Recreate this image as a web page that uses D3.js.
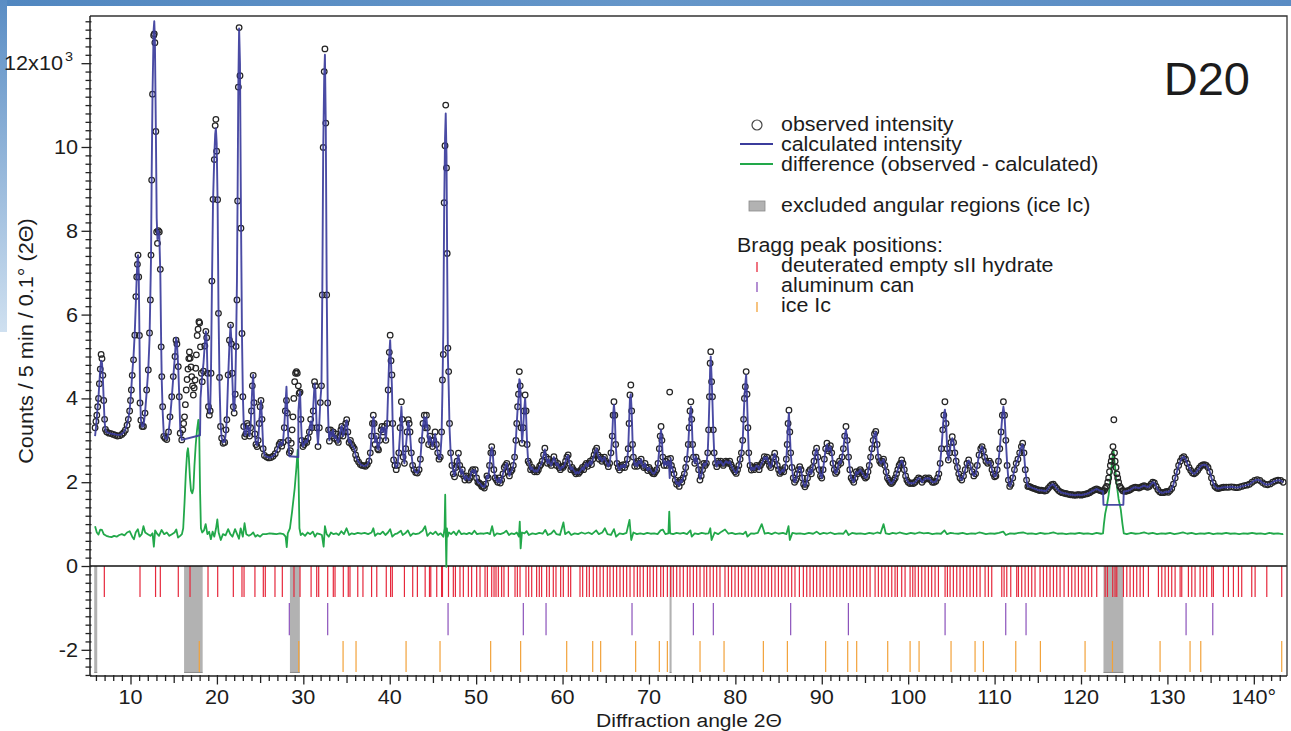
<!DOCTYPE html>
<html>
<head>
<meta charset="utf-8">
<script src="https://cdn.jsdelivr.net/npm/d3@7"></script>
<style>
  html, body { margin: 0; padding: 0; background: #fff; }
  svg { display: block; }
  text { font-family: "Liberation Sans", Arial, Helvetica, sans-serif; fill: #1c1c1c; }
</style>
</head>
<body>
<svg id="chart" width="1291" height="731"></svg>
<script>
// ---------------------------------------------------------------------------
// D20 neutron powder pattern: observed counts, calculated profile, difference
// Each profile row: [2θ (deg), observed counts, calculated counts]
// (null = no value drawn for that series at this angle)
// ---------------------------------------------------------------------------
const profile = [
  [5.9,3300,3100],[6.0,3450,3300],[6.1,3600,3550],[6.2,3800,3800],[6.3,4000,4050],[6.4,4350,4380],
  [6.5,4700,4700],[6.6,5050,4900],[6.7,4950,4850],[6.8,4550,4500],[6.9,3950,3950],[7.0,3500,3450],
  [7.1,3260,3250],[7.25,3200,3190],[7.5,3170,3170],[7.75,3160,3160],[8.0,3140,3150],[8.25,3120,3140],
  [8.5,3100,3130],[8.75,3110,3130],[9.0,3140,3150],[9.2,3180,3190],[9.4,3240,3260],[9.6,3360,3380],
  [9.75,3500,3520],[9.9,3700,3720],[10.0,3950,3950],[10.1,4200,4250],[10.2,4550,4600],[10.35,4920,5000],
  [10.5,5510,5600],[10.62,6430,6300],[10.72,6900,6900],[10.8,7200,7300],[10.87,7420,7420],[10.95,6900,7000],
  [11.03,5500,5600],[11.1,3890,4200],[11.2,3480,3500],[11.35,3330,3320],[11.5,3330,3330],
  [11.68,3650,3650],[11.87,4200,4150],[12.06,4680,4700],[12.2,5560,5400],[12.3,6350,6500],[12.37,7420,7300],
  [12.45,9210,9300],[12.55,11260,11300],[12.68,12660,12800],[12.75,12700,13000],[12.82,12490,12600],
  [12.93,10370,10500],[13.03,7970,8300],[13.12,7700,7800],[13.22,8000,8000],[13.33,7970,7900],
  [13.45,7080,7000],[13.55,5230,5300],[13.62,4520,4400],[13.72,3800,3700],[13.85,3090,3150],[14.0,3050,3050],
  [14.2,3020,3030],[14.4,3200,3180],[14.57,3560,3500],[14.77,4040,4000],[14.95,4520,4500],[15.15,5000,5050],
  [15.27,5390,5450],[15.37,5300,5350],[15.53,4760,4700],[15.65,4040,4000],[15.75,3170,3300],[15.93,3010,3010],
  [16.05,3250,null],[16.15,3400,null],[16.25,3560,null],[16.35,3850,null],[16.45,4200,null],[16.55,4450,null],
  [16.65,4700,null],[16.75,4950,null],[16.82,5110,null],[16.9,4960,null],[17.0,4750,null],[17.08,4520,null],
  [17.18,4300,null],[17.27,4080,null],[17.37,4250,null],[17.47,4440,null],[17.55,4720,null],[17.62,5040,null],
  [17.72,5500,null],[17.82,5650,null],[17.92,5830,null],[18.0,5800,null],[18.05,null,3120],
  [18.1,5230,4000],[18.2,4600,4300],[18.3,4400,4550],[18.45,4650,4850],[18.6,5250,5300],[18.72,5600,5600],
  [18.82,5450,5400],[18.92,4600,4500],[19.02,3800,3850],[19.12,3600,3650],[19.22,3700,3700],[19.32,4600,4700],
  [19.42,6800,6600],[19.55,8750,8700],[19.7,9700,9800],[19.8,10510,10300],[19.88,10660,10450],[19.97,9900,10100],
  [20.08,8740,8700],[20.18,6030,6200],[20.3,4500,4400],[20.42,3330,3400],[20.55,3050,3060],[20.72,2930,2950],
  [20.9,2950,2970],[21.05,3250,3200],[21.15,3490,3550],[21.3,4560,4500],[21.45,5390,5300],[21.58,5750,5750],
  [21.68,5300,5350],[21.78,4600,4500],[21.9,3800,3800],[22.0,3650,3700],[22.12,4100,4200],[22.22,5240,5300],
  [22.32,6350,6800],[22.4,8710,9000],[22.48,11430,11500],[22.57,12850,12830],[22.67,11700,12000],
  [22.78,8060,8500],[22.9,5550,5500],[23.0,4040,4100],[23.1,3330,3400],[23.22,3090,3120],
  [23.35,3150,3150],[23.5,3400,3350],[23.62,3350,3300],[23.78,3100,3100],[23.9,3300,3350],[24.0,3700,3800],
  [24.1,4300,4300],[24.2,4550,4560],[24.3,3900,3950],[24.4,3150,3100],[24.52,2900,2930],[24.65,2850,2880],
  [24.78,3000,3000],[24.9,3400,3400],[25.0,3800,3750],[25.1,3950,3950],[25.22,3500,3500],[25.35,2800,2850],
  [25.5,2640,2650],[25.75,2600,2610],[26.0,2580,2590],[26.25,2590,2590],[26.5,2620,2620],[26.75,2680,2680],
  [27.0,2780,2790],[27.2,2900,2920],[27.35,2950,2960],[27.5,2860,2880],[27.65,2950,2960],[27.8,3300,3350],
  [27.92,3700,3800],[28.05,3950,4280],[28.15,3650,3700],[28.27,3000,3000],[28.38,2700,2620],
  [28.5,2750,null],[28.6,2930,null],[28.7,3250,null],[28.8,3560,null],[28.9,4000,null],[29.0,4400,null],
  [29.1,4600,null],[29.2,4640,null],[29.3,4600,null],[29.42,4300,2600],[29.43,null,3700],[29.52,4120,3950],
  [29.62,4150,4160],[29.72,3500,3500],[29.82,3000,3050],[29.95,2850,2850],
  [30.1,2900,2900],[30.25,2980,3000],[30.4,2950,2950],[30.55,3050,3050],[30.7,3200,3250],[30.85,3500,3450],
  [31.0,3300,3250],[31.15,3700,3800],[31.3,4400,4350],[31.4,4300,4200],[31.55,3300,3300],[31.7,2850,2900],
  [31.85,3300,3400],[31.97,3900,3950],[32.1,4300,4300],[32.2,6470,6600],[32.3,9990,9900],[32.42,11800,11700],
  [32.5,12340,12200],[32.6,10570,10500],[32.7,6470,6800],[32.82,3890,4000],[32.92,3250,3250],[33.02,2980,3000],
  [33.15,3250,3200],[33.3,3100,3100],[33.45,3200,3250],[33.6,3050,3050],[33.75,3150,3100],[33.9,3000,3000],
  [34.05,2950,2950],[34.2,3100,3100],[34.35,3250,3300],[34.45,3330,3350],[34.6,3100,3100],[34.75,3200,3200],
  [34.9,3400,3380],[35.02,3490,3480],[35.15,3200,3150],[35.3,2950,2950],[35.45,3000,3000],[35.6,2900,2880],
  [35.75,2850,2850],[35.9,2800,2800],[36.05,2650,2650],[36.2,2550,2560],[36.4,2480,2490],[36.6,2420,2430],
  [36.8,2400,2400],[37.0,2390,2390],[37.2,2380,2390],[37.4,2420,2420],[37.6,2500,2500],[37.75,2700,2700],
  [37.9,3100,3100],[38.0,3400,3350],[38.1,3600,3560],[38.2,3400,3450],[38.3,2900,2950],[38.45,3100,3100],
  [38.6,2800,2800],[38.7,2770,2780],[38.85,3000,3000],[39.0,3250,3250],[39.1,3330,3300],[39.25,3200,3200],
  [39.4,3330,3320],[39.55,3000,3000],[39.7,3400,3400],[39.82,4200,4200],[39.95,5100,5050],[40.05,5510,5390],
  [40.15,4900,4850],[40.25,4560,4300],[40.35,3400,3300],[40.45,2530,2600],[40.6,2400,2420],[40.75,2300,2350],
  [40.9,2400,2400],[41.05,2700,2700],[41.2,3300,3200],[41.35,3920,3800],[41.45,3500,3400],[41.55,2600,2650],
  [41.7,2450,2450],[41.85,2800,2800],[42.0,3200,3150],[42.15,3490,3450],[42.25,3400,3350],[42.35,3200,3150],
  [42.5,2700,2700],[42.65,2400,2420],[42.8,2300,2300],[43.0,2230,2240],[43.2,2220,2220],[43.4,2300,2300],
  [43.55,2550,2550],[43.7,3000,3000],[43.85,3400,3350],[44.0,3600,3550],[44.12,3300,3300],[44.25,3600,3550],
  [44.35,3300,3300],[44.5,2900,2900],[44.65,3100,3100],[44.8,3000,3000],[44.95,2850,2850],[45.1,3000,3000],
  [45.25,3200,3150],[45.4,2900,2900],[45.55,2700,2700],[45.7,2550,2550],[45.85,2600,2600],[46.0,3200,3100],
  [46.1,4440,4200],[46.2,5050,5600],[46.3,8670,8500],[46.4,10030,10200],[46.48,11000,10800],[46.57,9500,9800],
  [46.65,7460,7200],[46.73,5200,5000],[46.82,4640,4300],[46.92,3400,3300],[47.05,2700,2700],
  [47.2,2400,2450],[47.35,2200,2250],[47.5,2130,2150],[47.65,2350,2300],[47.8,2500,2500],[47.95,2690,2650],
  [48.1,2400,2400],[48.25,2200,2200],[48.4,2300,2300],[48.55,2150,2150],[48.7,2050,2060],[48.85,2150,2150],
  [49.0,2100,2100],[49.15,2050,2050],[49.3,2100,2100],[49.45,2250,2250],[49.6,2300,2290],[49.75,2220,2220],
  [49.9,2300,2290],[50.05,2100,2100],[50.2,2000,2000],[50.35,1980,1980],[50.5,1950,1960],[50.65,1900,1910],
  [50.8,1900,1900],[50.95,1860,1880],[51.1,1950,1950],[51.25,2150,2150],[51.4,2100,2100],[51.55,2400,2400],
  [51.7,2700,2700],[51.8,2850,2830],[51.92,2700,2700],[52.05,2300,2300],[52.2,2100,2100],[52.35,2050,2050],
  [52.5,2000,2000],[52.65,2100,2100],[52.8,1980,1980],[52.95,2050,2050],[53.1,2200,2200],[53.25,2350,2300],
  [53.4,2400,2400],[53.55,2450,2450],[53.7,2250,2250],[53.85,2150,2150],[54.0,2250,2250],[54.15,2290,2290],
  [54.3,2400,2400],[54.45,2600,2600],[54.6,3000,3000],[54.7,3400,3400],[54.8,3800,3750],[54.9,4100,4000],
  [55.0,4640,4460],[55.1,4300,4400],[55.2,3300,3500],[55.32,2930,2950],[55.45,3300,3300],[55.55,3700,3700],
  [55.67,4080,4000],[55.78,3700,3600],[55.9,2900,2900],[56.02,2500,2500],[56.15,2450,2450],
  [56.3,2300,2300],[56.45,2350,2350],[56.6,2300,2300],[56.75,2250,2250],[56.9,2290,2290],[57.05,2250,2250],
  [57.2,2300,2300],[57.35,2380,2380],[57.5,2420,2420],[57.65,2500,2500],[57.8,2650,2650],[57.95,2810,2780],
  [58.1,2600,2600],[58.25,2450,2450],[58.4,2550,2550],[58.55,2450,2450],[58.7,2400,2400],[58.85,2500,2500],
  [59.0,2610,2600],[59.15,2500,2500],[59.3,2400,2400],[59.45,2450,2450],[59.6,2350,2350],[59.75,2300,2300],
  [59.9,2370,2370],[60.05,2350,2350],[60.2,2400,2400],[60.35,2500,2500],[60.5,2600,2600],[60.65,2650,2640],
  [60.8,2450,2450],[60.95,2300,2300],[61.1,2350,2350],[61.25,2300,2300],[61.4,2250,2250],[61.55,2200,2200],
  [61.7,2250,2250],[61.85,2210,2210],[62.0,2250,2250],[62.15,2300,2300],[62.3,2350,2350],[62.45,2300,2300],
  [62.6,2400,2400],[62.75,2450,2450],[62.9,2380,2380],[63.05,2450,2450],[63.2,2500,2500],[63.35,2420,2420],
  [63.5,2550,2550],[63.65,2650,2650],[63.8,2750,2750],[63.95,2810,2800],[64.1,2650,2650],[64.25,2550,2550],
  [64.4,2600,2600],[64.55,2500,2500],[64.7,2550,2550],[64.85,2600,2600],[65.0,2500,2500],[65.15,2450,2450],
  [65.3,2370,2370],[65.45,2450,2450],[65.6,2700,2700],[65.75,3100,3100],[65.85,3600,3600],[65.95,3920,3850],
  [66.05,3600,3600],[66.15,2900,2900],[66.3,2450,2450],[66.45,2350,2350],[66.6,2290,2290],[66.75,2400,2400],
  [66.9,2350,2350],[67.05,2420,2420],[67.2,2350,2350],[67.35,2420,2420],[67.5,2550,2550],[67.6,2800,2800],
  [67.7,3400,3400],[67.8,4080,4000],[67.9,4320,4100],[68.0,3700,3700],[68.1,2900,3000],[68.2,2600,2600],
  [68.35,2380,2400],[68.5,2450,2450],[68.65,2380,2380],[68.8,2500,2500],[68.95,2450,2450],[69.1,2550,2550],
  [69.25,2400,2400],[69.4,2350,2350],[69.55,2450,2450],[69.7,2350,2350],[69.85,2280,2280],[70.0,2350,2350],
  [70.15,2300,2300],[70.3,2250,2250],[70.45,2210,2210],[70.6,2200,2200],[70.75,2250,2250],[70.9,2300,2300],
  [71.05,2450,2450],[71.2,2800,2800],[71.3,3100,3100],[71.4,3330,3250],[71.5,3000,3000],[71.6,2600,2600],
  [71.75,2400,2400],[71.9,2500,2500],[72.05,2400,2400],[72.2,2550,2500],[72.32,2450,2450],[72.4,4150,2100],
  [72.5,2570,2570],[72.6,2400,2400],[72.75,2300,2300],[72.9,2200,2200],[73.05,2050,2050],[73.2,1950,1960],
  [73.35,2000,2000],[73.5,1900,1910],[73.65,2050,2050],[73.8,2000,2000],[73.95,2100,2100],[74.1,2200,2200],
  [74.25,2350,2350],[74.4,2550,2550],[74.55,2900,2900],[74.65,3300,3300],[74.75,3700,3650],[74.85,3920,3800],
  [74.95,3500,3500],[75.05,2900,2900],[75.15,2600,2600],[75.3,2450,2450],[75.45,2600,2600],[75.6,2500,2500],
  [75.75,2300,2300],[75.9,2050,2080],[76.05,2150,2150],[76.2,2300,2300],[76.35,2450,2450],[76.5,2400,2400],
  [76.65,2450,2450],[76.8,2700,2700],[76.9,3250,3250],[77.0,4040,4000],[77.08,4840,4700],[77.15,5115,5000],
  [77.25,4400,4500],[77.35,4040,3900],[77.45,3250,3200],[77.55,2700,2700],[77.7,2450,2450],[77.85,2370,2370],
  [78.0,2500,2500],[78.15,2450,2450],[78.3,2500,2500],[78.45,2450,2450],[78.6,2400,2400],[78.75,2450,2450],
  [78.9,2500,2500],[79.05,2480,2480],[79.2,2450,2450],[79.35,2500,2500],[79.5,2420,2420],[79.65,2350,2350],
  [79.8,2300,2300],[79.95,2250,2250],[80.1,2210,2210],[80.25,2300,2300],[80.4,2400,2400],[80.55,2550,2550],
  [80.7,2700,2700],[80.85,3000,3000],[80.95,3500,3500],[81.05,4000,4000],[81.15,4280,4350],[81.25,4640,4560],
  [81.35,4100,4000],[81.45,3300,3300],[81.55,2700,2700],[81.7,2400,2400],[81.85,2290,2290],[82.0,2350,2350],
  [82.15,2300,2300],[82.3,2350,2350],[82.45,2400,2400],[82.6,2370,2370],[82.75,2300,2300],[82.9,2400,2400],
  [83.05,2450,2450],[83.2,2500,2500],[83.35,2610,2600],[83.5,2550,2550],[83.65,2600,2600],[83.8,2500,2500],
  [83.95,2400,2400],[84.1,2350,2350],[84.25,2450,2450],[84.4,2600,2600],[84.55,2690,2680],[84.7,2550,2550],
  [84.85,2400,2400],[85.0,2300,2300],[85.15,2210,2210],[85.3,2250,2250],[85.45,2300,2300],[85.6,2250,2250],
  [85.75,2350,2350],[85.9,2550,2550],[86.0,2900,2900],[86.1,3400,3400],[86.2,3720,3650],[86.3,3200,3200],
  [86.4,2700,2700],[86.55,2350,2350],[86.7,2100,2100],[86.85,2000,2000],[87.0,2050,2050],[87.15,2200,2200],
  [87.3,2300,2300],[87.45,2370,2370],[87.6,2300,2300],[87.75,2100,2100],[87.9,1950,1950],[88.05,1890,1900],
  [88.2,1950,1950],[88.35,2100,2100],[88.5,2250,2250],[88.65,2300,2300],[88.8,2200,2200],[88.95,2350,2350],
  [89.1,2500,2500],[89.25,2700,2700],[89.4,2810,2800],[89.55,2600,2600],[89.7,2300,2300],[89.85,2150,2150],
  [90.0,2100,2100],[90.15,2300,2300],[90.3,2550,2550],[90.45,2800,2800],[90.6,2930,2900],[90.75,2750,2750],
  [90.9,2800,2800],[91.0,2870,2850],[91.15,2700,2700],[91.3,2450,2450],[91.45,2300,2300],[91.6,2210,2210],
  [91.75,2250,2250],[91.9,2400,2400],[92.05,2500,2500],[92.2,2450,2450],[92.35,2600,2600],[92.5,2800,2800],
  [92.65,3100,3100],[92.8,3330,3250],[92.95,3000,3000],[93.1,2600,2600],[93.25,2300,2300],[93.4,2100,2100],
  [93.55,2050,2050],[93.7,2000,2000],[93.85,2100,2100],[94.0,2250,2250],[94.15,2200,2200],[94.3,2250,2250],
  [94.45,2300,2300],[94.6,2250,2250],[94.75,2200,2200],[94.9,2150,2150],[95.05,2100,2100],[95.2,2130,2130],
  [95.35,2250,2250],[95.5,2400,2400],[95.65,2600,2600],[95.8,2800,2800],[95.95,3000,3000],[96.1,3150,3150],
  [96.25,3210,3200],[96.4,2900,2900],[96.55,2600,2600],[96.7,2500,2500],[96.85,2450,2450],[97.0,2500,2500],
  [97.15,2550,2550],[97.3,2400,2400],[97.45,2250,2250],[97.6,2100,2100],[97.75,2050,2050],[97.9,2000,2000],
  [98.05,1970,1970],[98.2,2000,2000],[98.35,2050,2050],[98.5,2100,2100],[98.65,2200,2200],[98.8,2300,2300],
  [98.95,2400,2400],[99.1,2450,2450],[99.25,2530,2520],[99.4,2450,2450],[99.55,2300,2300],[99.7,2150,2150],
  [99.85,2050,2050],[100.0,2000,2000],[100.2,1970,1970],[100.4,1980,1980],[100.6,1970,1970],[100.8,2000,2000],
  [101.0,2050,2050],[101.2,2100,2100],[101.4,2080,2080],[101.6,2000,2000],[101.8,2050,2050],[102.0,2100,2100],
  [102.2,2080,2080],[102.4,2100,2100],[102.6,2050,2050],[102.8,2000,2000],[103.0,2000,2000],[103.2,2020,2020],
  [103.4,2100,2100],[103.55,2200,2200],[103.7,2450,2450],[103.85,2800,2800],[104.0,3250,3250],[104.12,3600,3600],
  [104.25,3920,3730],[104.38,3400,3450],[104.5,2800,2850],[104.65,2530,2530],[104.8,2700,2700],[104.95,2950,2950],
  [105.1,3086,3050],[105.25,2950,2950],[105.4,2700,2700],[105.55,2500,2500],[105.7,2350,2350],[105.85,2200,2200],
  [106.0,2100,2100],[106.2,2050,2050],[106.4,2150,2150],[106.6,2300,2300],[106.8,2450,2450],[107.0,2530,2520],
  [107.2,2400,2400],[107.4,2250,2250],[107.6,2150,2150],[107.8,2200,2200],[108.0,2400,2400],[108.2,2650,2650],
  [108.4,2800,2800],[108.55,2850,2850],[108.7,2750,2750],[108.85,2600,2600],[109.0,2500,2500],[109.2,2450,2450],
  [109.4,2500,2500],[109.55,2450,2450],[109.7,2300,2300],[109.85,2200,2200],[110.0,2130,2130],[110.15,2150,2150],
  [110.3,2300,2300],[110.45,2500,2500],[110.6,2800,2800],[110.75,3200,3200],[110.9,3600,3600],[111.02,3920,3800],
  [111.15,3600,3600],[111.3,3000,3000],[111.45,2400,2450],[111.6,2050,2050],[111.75,1900,1900],[111.9,1950,1950],
  [112.1,2100,2100],[112.3,2300,2300],[112.5,2450,2450],[112.7,2550,2550],[112.9,2700,2700],[113.1,2850,2850],
  [113.25,2930,2900],[113.4,2700,2700],[113.55,2300,2300],[113.7,2050,2050],[113.85,1900,1900],[114.0,1900,1900],
  [114.2,1880,1880],[114.4,1860,1860],[114.6,1850,1850],[114.8,1830,1830],[115.0,1820,1820],[115.2,1800,1800],
  [115.4,1810,1810],[115.6,1800,1800],[115.8,1790,1790],[116.0,1800,1800],[116.2,1850,1850],[116.4,1900,1900],
  [116.6,1940,1940],[116.8,1950,1950],[117.0,1900,1900],[117.2,1850,1850],[117.4,1800,1800],[117.6,1770,1770],
  [117.8,1750,1750],[118.0,1740,1740],[118.2,1730,1730],[118.4,1720,1720],[118.6,1710,1710],[118.8,1700,1700],
  [119.0,1700,1700],[119.2,1690,1690],[119.4,1690,1690],[119.6,1700,1700],[119.8,1700,1700],[120.0,1690,1690],
  [120.2,1700,1700],[120.4,1710,1710],[120.6,1720,1720],[120.8,1730,1730],[121.0,1750,1750],[121.2,1780,1780],
  [121.4,1800,1800],[121.6,1820,1820],[121.8,1840,1840],[122.0,1820,1820],[122.2,1800,1800],[122.4,1790,1790],
  [122.55,1780,1780],[122.6,null,1460],[122.7,1800,null],[122.8,1850,null],[122.95,1900,null],[123.1,2000,null],
  [123.2,2100,null],[123.3,2250,null],[123.4,2400,null],[123.5,2500,null],[123.6,2610,null],[123.7,2850,null],
  [123.8,3490,null],[123.88,2700,null],[123.95,2500,null],[124.05,2350,null],[124.15,2200,null],[124.25,2100,null],
  [124.35,2000,null],[124.5,1900,null],[124.65,1850,null],[124.8,1800,null],[124.9,1790,1460],[124.95,null,1780],
  [125.1,1780,1780],[125.3,1790,1790],[125.5,1800,1800],[125.7,1820,1820],[125.9,1850,1850],[126.1,1870,1870],
  [126.3,1880,1880],[126.5,1870,1870],[126.7,1860,1860],[126.9,1880,1880],[127.1,1900,1900],[127.3,1920,1920],
  [127.5,1900,1900],[127.7,1880,1880],[127.9,1900,1900],[128.1,1950,1950],[128.3,2000,2000],[128.5,1980,1980],
  [128.7,1900,1900],[128.9,1820,1820],[129.1,1770,1770],[129.3,1750,1750],[129.5,1750,1750],[129.7,1760,1760],
  [129.9,1780,1780],[130.1,1760,1760],[130.3,1800,1800],[130.5,1850,1850],[130.7,1950,1950],[130.9,2100,2100],
  [131.1,2250,2250],[131.3,2400,2400],[131.5,2500,2500],[131.7,2580,2580],[131.9,2610,2610],[132.1,2550,2550],
  [132.3,2450,2450],[132.5,2350,2350],[132.7,2280,2280],[132.9,2220,2220],[133.1,2200,2200],[133.3,2230,2230],
  [133.5,2280,2280],[133.7,2340,2340],[133.9,2390,2390],[134.1,2410,2410],[134.3,2420,2420],[134.5,2400,2400],
  [134.7,2350,2350],[134.9,2250,2250],[135.1,2100,2100],[135.3,1980,1980],[135.5,1900,1900],[135.7,1860,1860],
  [135.9,1850,1850],[136.1,1860,1860],[136.3,1870,1870],[136.5,1880,1880],[136.8,1880,1880],[137.1,1880,1880],
  [137.4,1890,1890],[137.7,1880,1880],[138.0,1870,1870],[138.3,1880,1880],[138.6,1900,1900],[138.9,1920,1920],
  [139.2,1930,1930],[139.5,1950,1950],[139.8,2000,2000],[140.1,2040,2040],[140.4,2060,2060],[140.7,2040,2040],
  [141.0,1990,1990],[141.3,1950,1950],[141.6,1940,1940],[141.9,1960,1960],[142.2,2000,2000],[142.5,2030,2030],
  [142.8,2050,2050],[143.1,2040,2040],[143.4,2000,2000]
];

// Difference (observed - calculated), drawn with its own offset baseline: [2θ, counts]
const difference = [
  [5.9,950],[6.1,800],[6.3,750],[6.5,870],[6.7,860],[6.9,760],[7.2,720],[7.5,700],[7.8,690],[8.1,720],
  [8.4,700],[8.7,740],[9.0,760],[9.3,730],[9.6,800],[9.9,830],[10.2,700],[10.4,640],[10.6,800],[10.85,880],
  [11.05,700],[11.3,760],[11.5,950],[11.7,800],[12.0,760],[12.3,720],[12.55,780],[12.7,460],[12.85,850],
  [13.05,780],[13.3,720],[13.6,860],[13.9,760],[14.2,800],[14.5,720],[14.8,760],[15.1,800],[15.3,870],
  [15.5,680],[15.75,720],[15.95,760],[16.1,900],[16.25,1500],[16.4,2200],[16.55,2700],[16.65,2810],
  [16.75,2600],[16.88,2100],[17.0,1800],[17.15,1735],[17.28,1850],[17.4,2400],[17.55,2900],[17.7,3250],
  [17.85,3485],[17.95,3200],[18.05,1800],[18.15,900],[18.3,800],[18.5,850],[18.7,1000],[18.9,760],
  [19.1,820],[19.3,640],[19.5,820],[19.7,700],[19.9,900],[20.05,1110],[20.2,800],[20.45,620],[20.7,760],
  [21.0,730],[21.3,880],[21.55,760],[21.8,700],[22.1,880],[22.3,780],[22.55,650],[22.75,900],[23.0,700],
  [23.2,1020],[23.4,760],[23.7,720],[24.0,760],[24.2,800],[24.45,700],[24.7,740],[25.0,700],[25.3,760],
  [25.7,760],[26.1,780],[26.5,770],[26.9,760],[27.3,780],[27.7,760],[27.95,700],[28.08,450],[28.2,780],
  [28.45,900],[28.7,1300],[29.0,1850],[29.2,2350],[29.35,2770],[29.45,2100],[29.55,900],[29.7,740],
  [29.9,780],[30.2,720],[30.5,800],[30.8,760],[31.1,820],[31.35,700],[31.6,780],[31.9,760],[32.15,740],
  [32.35,460],[32.5,950],[32.7,760],[32.95,700],[33.2,800],[33.5,760],[33.8,780],[34.1,740],[34.4,830],
  [34.7,760],[35.0,900],[35.3,740],[35.6,780],[35.9,760],[36.3,790],[36.7,770],[37.1,790],[37.5,760],
  [37.9,800],[38.1,900],[38.3,720],[38.6,780],[38.9,760],[39.2,820],[39.5,740],[39.8,800],[40.05,880],
  [40.3,700],[40.6,760],[40.9,780],[41.3,840],[41.5,740],[41.8,780],[42.1,850],[42.4,720],[42.7,780],
  [43.0,760],[43.4,780],[43.8,840],[44.1,950],[44.35,720],[44.7,800],[45.0,760],[45.3,820],[45.6,740],
  [45.9,780],[46.2,700],[46.35,900],[46.42,1700],[46.5,600],[46.55,-20],[46.62,900],[46.7,700],[46.85,800],
  [47.1,760],[47.4,820],[47.7,740],[48.0,850],[48.3,760],[48.6,780],[48.9,760],[49.2,790],[49.5,760],
  [49.8,840],[50.1,760],[50.5,780],[50.9,770],[51.3,790],[51.6,760],[51.85,950],[52.1,720],[52.4,780],
  [52.8,760],[53.2,790],[53.5,840],[53.8,740],[54.1,780],[54.4,760],[54.7,800],[54.95,700],[55.05,1060],
  [55.15,420],[55.3,800],[55.6,780],[55.85,830],[56.1,740],[56.5,780],[56.9,760],[57.3,790],[57.7,770],
  [58.0,860],[58.3,740],[58.7,780],[59.0,850],[59.3,760],[59.7,740],[60.1,1040],[60.3,760],[60.7,820],
  [61.0,740],[61.4,780],[61.8,760],[62.2,800],[62.6,770],[63.0,800],[63.4,760],[63.9,850],[64.2,760],
  [64.6,800],[64.9,900],[65.2,760],[65.6,740],[65.95,880],[66.2,700],[66.6,780],[67.0,760],[67.4,790],
  [67.75,1100],[67.95,620],[68.2,800],[68.6,760],[69.0,780],[69.4,760],[69.8,790],[70.2,770],[70.6,780],
  [71.0,760],[71.35,850],[71.6,870],[71.9,760],[72.25,780],[72.35,1300],[72.45,780],[72.8,760],[73.2,790],
  [73.6,770],[74.0,790],[74.4,760],[74.8,850],[74.95,700],[75.3,780],[75.7,760],[76.1,790],[76.5,770],
  [76.9,780],[77.1,900],[77.25,620],[77.6,800],[78.0,760],[78.4,820],[78.8,870],[79.2,770],[79.6,790],
  [80.0,760],[80.5,780],[80.9,760],[81.2,820],[81.4,700],[81.8,780],[82.2,770],[82.6,790],[83.05,1000],
  [83.4,770],[83.8,790],[84.2,760],[84.6,800],[85.0,770],[85.5,790],[85.9,760],[86.15,950],[86.3,620],
  [86.6,790],[87.0,770],[87.5,780],[88.0,760],[88.5,790],[89.0,770],[89.4,820],[89.8,760],[90.2,790],
  [90.6,770],[91.0,800],[91.5,760],[92.0,780],[92.5,770],[92.8,850],[93.1,740],[93.5,790],[94.0,770],
  [94.5,780],[95.0,760],[95.5,790],[96.0,770],[96.4,800],[96.8,780],[97.15,1000],[97.4,780],[97.8,760],
  [98.2,790],[98.6,770],[99.0,800],[99.4,780],[99.8,760],[100.3,790],[100.8,770],[101.3,800],[101.8,780],
  [102.3,790],[102.8,760],[103.3,780],[103.8,770],[104.2,850],[104.5,760],[104.9,790],[105.3,780],
  [105.8,770],[106.3,790],[106.8,760],[107.3,780],[107.8,770],[108.2,800],[108.5,790],[109.0,760],
  [109.5,780],[110.0,770],[110.5,790],[111.0,820],[111.3,740],[111.8,780],[112.3,770],[112.8,790],
  [113.3,800],[113.8,770],[114.3,780],[114.8,760],[115.3,790],[115.8,770],[116.3,780],[116.8,800],
  [117.3,770],[117.8,780],[118.3,760],[118.8,780],[119.3,770],[119.8,790],[120.3,770],[120.8,780],
  [121.3,760],[121.8,790],[122.3,770],[122.55,780],[122.65,1000],[122.8,1250],[123.0,1450],[123.2,1700],
  [123.4,2050],[123.6,2500],[123.75,2770],[123.9,2450],[124.1,2000],[124.35,1600],[124.6,1350],[124.8,1000],
  [124.95,780],[125.3,760],[125.8,790],[126.3,770],[126.8,780],[127.3,800],[127.8,770],[128.3,790],
  [128.8,760],[129.3,780],[129.8,770],[130.3,790],[130.8,760],[131.3,780],[131.8,800],[132.3,770],
  [132.8,790],[133.3,760],[133.8,780],[134.3,770],[134.8,790],[135.3,760],[135.8,780],[136.3,770],
  [136.8,790],[137.3,770],[137.8,780],[138.3,760],[138.8,780],[139.3,770],[139.8,790],[140.3,770],
  [140.8,780],[141.3,760],[141.8,790],[142.3,770],[142.8,780],[143.3,760],[143.4,770]
];

// Angular ranges left out of the refinement (ice Ic)
const excludedRegions = [[5.8, 6.15], [16.2, 18.35], [28.45, 29.6], [72.38, 72.62], [122.6, 124.9]];

// Bragg reflection positions (2θ, deg)
const hydratePeaks = [
  6.97,11.1,12.9,13.45,15.53,16.89,18.97,20.09,21.9,22.9,23.14,24.4,25.37,25.6,26.72,27.57,28.92,29.62,
  30.9,31.55,31.78,32.82,33.47,33.67,34.63,35.2,35.4,36.3,36.9,37.9,38.5,39.6,40.1,40.3,41.7,42.66,43.2,
  44.1,44.6,44.75,45.44,46.0,46.1,46.8,47.36,47.6,48.13,48.52,49.1,49.48,50.06,50.45,51.03,51.3,51.8,52.07,
  52.3,52.57,52.95,53.22,53.73,54.5,54.77,55.08,55.77,56.08,56.43,57.0,57.31,57.58,58.16,58.47,58.93,59.24,
  59.78,60.09,60.67,60.94,62.02,62.33,62.79,63.1,63.56,63.95,64.34,64.72,65.18,65.49,65.88,66.26,66.65,
  67.04,67.42,67.81,68.27,68.66,68.97,69.35,69.82,70.12,70.51,70.89,71.36,71.67,72.13,72.51,72.82,73.21,
  73.59,73.98,74.44,74.75,75.14,75.52,75.91,76.37,76.68,77.07,77.45,77.84,78.22,78.8,79.19,79.57,79.96,
  80.35,80.73,81.12,81.5,81.89,82.28,82.66,83.05,83.43,83.82,84.2,84.59,84.98,85.36,85.75,86.13,86.52,
  86.9,87.41,87.87,88.26,88.64,89.03,89.41,89.8,90.18,90.57,90.96,91.34,91.73,92.11,92.5,92.88,93.27,
  93.66,94.04,94.43,94.82,95.2,95.59,96.17,96.55,96.94,97.32,97.71,98.1,98.48,98.75,99.25,99.64,100.22,
  100.53,100.8,101.18,101.57,101.95,102.34,102.72,103.11,103.5,104.27,104.54,104.85,105.23,105.62,106.0,
  106.39,106.78,107.16,107.55,107.93,108.32,108.9,109.28,109.67,110.83,111.1,111.41,111.87,112.56,112.76,
  113.14,113.53,113.91,114.3,114.68,115.26,115.65,116.03,116.42,116.81,117.19,117.58,118.04,118.54,118.93,
  119.31,119.7,120.09,120.47,120.86,121.24,121.82,122.79,123.06,123.67,123.94,124.14,124.91,125.3,125.68,
  126.07,126.45,126.84,127.22,127.8,128.96,129.35,129.73,130.12,130.5,130.89,131.47,131.66,132.43,132.82,
  133.2,133.78,134.17,134.55,135.13,135.32,136.48,137.06,137.64,138.22,138.6,139.76,140.15,141.5,143.23
];
const aluminumPeaks = [28.38, 32.82, 46.75, 55.46, 58.09, 68.04, 75.14, 77.45, 86.4, 93.08, 104.27, 111.29, 113.64, 132.16, 135.25];
const icePeaks = [
  17.96, 29.47, 34.6, 36.1, 41.89, 45.82, 51.68, 55.15, 60.48, 63.49, 64.41, 68.46, 71.2, 72.13, 75.91,
  78.69, 83.24, 86.02, 90.45, 93.0, 94.04, 97.63, 100.22, 101.26, 104.96, 107.74, 108.7, 112.45, 115.3,
  120.47, 123.64, 129.15, 132.62, 133.86, 143.23
];

// Axis ticks
const yTickLabels = [-2000, 0, 2000, 4000, 6000, 8000, 10000, 12000];
const yMinorTicks = d3.range(-2600, 13001, 200);
const xTickLabels = [10, 20, 30, 40, 50, 60, 70, 80, 90, 100, 110, 120, 130, 140];
const xMinorTicks = d3.range(6, 144, 1);

// ---------------------------------------------------------------------------
const W = 1291, H = 731;
const plot = { left: 90, right: 1287, top: 16, bottom: 676 };
const colors = {
  calc: "#3b3c9c", diff: "#22a84a", obs: "#242424",
  hydrate: "#e6283c", aluminum: "#8b52bb", ice: "#f2a23a", excluded: "#b2b2b2"
};
const FONT_SX = 1.11;   // text is slightly wide in this figure

const svg = d3.select("#chart");
const x = d3.scaleLinear().domain([5.3125, 143.84]).range([plot.left, plot.right]);
const y = d3.scaleLinear().domain([-2625, 13126]).range([plot.bottom, plot.top]);

// slide background: blue band on top and left edge
const defs = svg.append("defs");
const gTop = defs.append("linearGradient").attr("id", "bandTop").attr("x1", 0).attr("x2", 1).attr("y1", 0).attr("y2", 0);
gTop.append("stop").attr("offset", 0).attr("stop-color", "#5187c0");
gTop.append("stop").attr("offset", 0.5).attr("stop-color", "#6596c9");
gTop.append("stop").attr("offset", 1).attr("stop-color", "#5a8cc4");
const gLeft = defs.append("linearGradient").attr("id", "bandLeft").attr("x1", 0).attr("x2", 0).attr("y1", 0).attr("y2", 1);
gLeft.append("stop").attr("offset", 0).attr("stop-color", "#5a8dc4");
gLeft.append("stop").attr("offset", 1).attr("stop-color", "#cfe0f0");

svg.append("rect").attr("width", W).attr("height", H).attr("fill", "#fff");
svg.append("rect").attr("x", 0).attr("y", 0).attr("width", W).attr("height", 6).attr("fill", "url(#bandTop)");
svg.append("rect").attr("x", 0).attr("y", 0).attr("width", 7).attr("height", 332).attr("fill", "url(#bandLeft)");

// helper for horizontally stretched text
function label(parent, tx, ty, str, size, anchor) {
  return parent.append("text")
    .attr("transform", `translate(${tx},${ty}) scale(${FONT_SX},1)`)
    .attr("font-size", size)
    .attr("text-anchor", anchor || "start")
    .text(str);
}

// ---- excluded regions ----
const exclBottom = -2540;
svg.append("g").selectAll("rect").data(excludedRegions).join("rect")
  .attr("x", d => x(d[0]))
  .attr("width", d => Math.max(2, x(d[1]) - x(d[0])))
  .attr("y", y(0))
  .attr("height", y(exclBottom) - y(0))
  .attr("fill", colors.excluded);
svg.append("g").selectAll("line").data(excludedRegions).join("line")
  .attr("x1", d => x(d[0])).attr("x2", d => x(d[1]))
  .attr("y1", y(exclBottom)).attr("y2", y(exclBottom))
  .attr("stroke", "#8a8a8a").attr("stroke-width", 1);

// ---- Bragg tick rows ----
const rows = [
  { data: hydratePeaks, color: colors.hydrate, top: 0, bottom: -740 },
  { data: aluminumPeaks, color: colors.aluminum, top: -880, bottom: -1650 },
  { data: icePeaks, color: colors.ice, top: -1790, bottom: -2530 }
];
rows.forEach(r => {
  svg.append("g").selectAll("line").data(r.data).join("line")
    .attr("x1", d => x(d)).attr("x2", d => x(d))
    .attr("y1", y(r.top)).attr("y2", y(r.bottom))
    .attr("stroke", r.color).attr("stroke-width", 1.2);
});

// zero line
svg.append("line").attr("x1", plot.left).attr("x2", plot.right)
  .attr("y1", y(0)).attr("y2", y(0)).attr("stroke", "#111").attr("stroke-width", 1.4);

// ---- difference curve ----
const diffLine = d3.line().x(d => x(d[0])).y(d => y(d[1]));
svg.append("path").datum(difference).attr("d", diffLine)
  .attr("fill", "none").attr("stroke", colors.diff).attr("stroke-width", 1.8).attr("stroke-linejoin", "round");

// ---- observed points ----
svg.append("g").selectAll("circle").data(profile.filter(d => d[1] != null)).join("circle")
  .attr("cx", d => x(d[0])).attr("cy", d => y(d[1])).attr("r", 2.8)
  .attr("fill", "none").attr("stroke", colors.obs).attr("stroke-width", 1.25);

// ---- calculated profile ----
const calcLine = d3.line().x(d => x(d[0])).y(d => y(d[2]));
svg.append("path").datum(profile.filter(d => d[2] != null)).attr("d", calcLine)
  .attr("fill", "none").attr("stroke", colors.calc).attr("stroke-width", 1.9)
  .attr("stroke-linejoin", "round").attr("opacity", 0.92);

// ---- frame ----
svg.append("path")
  .attr("d", `M${plot.left},${plot.top}H${plot.right}V${plot.bottom}`)
  .attr("fill", "none").attr("stroke", "#333").attr("stroke-width", 1.3);

// ---- y axis ----
const yAxisG = svg.append("g").attr("transform", `translate(${plot.left},0)`)
  .call(d3.axisLeft(y).tickValues(yMinorTicks).tickSizeOuter(0).tickFormat(""));
yAxisG.select(".domain").attr("stroke", "#222").attr("stroke-width", 1.5)
  .attr("d", `M0,${plot.top}V${plot.bottom}`);
yAxisG.selectAll(".tick line")
  .attr("x1", 1.5)
  .attr("x2", d => (d % 2000 === 0 ? -8.5 : -4.5))
  .attr("stroke", "#222").attr("stroke-width", 1.3);

const yLab = svg.append("g");
yTickLabels.forEach(v => {
  if (v === 12000) {
    label(yLab, 63, y(v) + 7, "12x10", 19.5, "end");
    label(yLab, 65, y(v) - 2, "3", 13, "start");
  } else {
    label(yLab, 78, y(v) + 7, String(v / 1000), 19.5, "end");
  }
});

// ---- x axis ----
const xAxisG = svg.append("g").attr("transform", `translate(0,${plot.bottom})`)
  .call(d3.axisBottom(x).tickValues(xMinorTicks).tickSizeOuter(0).tickFormat(""));
xAxisG.select(".domain").attr("stroke", "#222").attr("stroke-width", 1.5)
  .attr("d", `M${plot.left},0H${plot.right}`);
xAxisG.selectAll(".tick line")
  .attr("y1", -1)
  .attr("y2", d => (d % 10 === 0 ? 8.5 : d % 5 === 0 ? 7 : 5))
  .attr("stroke", "#222").attr("stroke-width", 1.3);

const xLab = svg.append("g");
xTickLabels.forEach(v => {
  label(xLab, x(v), 704, v === 140 ? "140°" : String(v), 19.5, "middle");
});

// ---- axis titles ----
label(svg, 689, 727, "Diffraction angle 2Θ", 19, "middle");
svg.append("text")
  .attr("transform", `translate(33,341) rotate(-90) scale(${FONT_SX},1)`)
  .attr("font-size", 19.5).attr("text-anchor", "middle")
  .text("Counts / 5 min / 0.1° (2Θ)");

// ---- instrument tag ----
svg.append("text").attr("x", 1250).attr("y", 95).attr("text-anchor", "end")
  .attr("font-size", 47).attr("fill", "#111").text("D20");

// ---- legend ----
const lg = svg.append("g");
lg.append("circle").attr("cx", 757).attr("cy", 125).attr("r", 5)
  .attr("fill", "none").attr("stroke", "#444").attr("stroke-width", 1.2);
label(lg, 781, 131, "observed intensity", 19.3);
lg.append("line").attr("x1", 740).attr("x2", 773).attr("y1", 144).attr("y2", 144)
  .attr("stroke", colors.calc).attr("stroke-width", 2);
label(lg, 781, 151, "calculated intensity", 19.3);
lg.append("line").attr("x1", 740).attr("x2", 773).attr("y1", 164).attr("y2", 164)
  .attr("stroke", colors.diff).attr("stroke-width", 2);
label(lg, 781, 171, "difference (observed - calculated)", 19.3);
lg.append("rect").attr("x", 749).attr("y", 201).attr("width", 16).attr("height", 10)
  .attr("fill", colors.excluded).attr("stroke", "#8a8a8a").attr("stroke-width", 0.8);
label(lg, 781, 212, "excluded angular regions (ice Ic)", 19.3);
label(lg, 737, 252, "Bragg peak positions:", 19.3);
[["deuterated empty sII hydrate", colors.hydrate], ["aluminum can", colors.aluminum], ["ice Ic", colors.ice]]
  .forEach((e, i) => {
    const yy = 272 + i * 20;
    lg.append("line").attr("x1", 757).attr("x2", 757).attr("y1", yy - 10).attr("y2", yy)
      .attr("stroke", e[1]).attr("stroke-width", 1.3);
    label(lg, 781, yy, e[0], 19.3);
  });
</script>
</body>
</html>
